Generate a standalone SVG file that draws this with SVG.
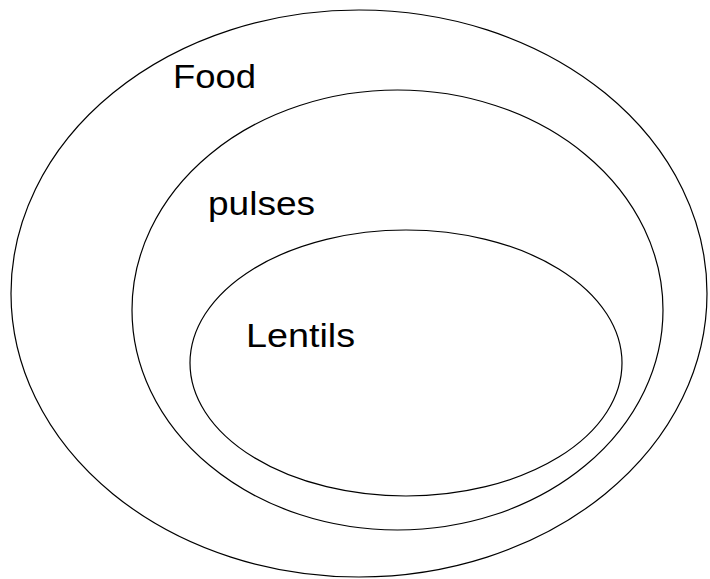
<svg xmlns="http://www.w3.org/2000/svg" width="710" height="579" viewBox="0 0 710 579">
<style>
.set{fill:none;stroke:#000;stroke-width:1.2}
.lbl{font-family:"Liberation Sans",Arial,sans-serif;font-size:34px;fill:#000}
</style>
<rect width="710" height="579" fill="#fff"/>
<g id="food">
<ellipse class="set" cx="359" cy="293.5" rx="348" ry="283.5"/>
<text class="lbl" x="173" y="88" textLength="83" lengthAdjust="spacingAndGlyphs">Food</text>
</g>
<g id="pulses">
<ellipse class="set" cx="397.5" cy="310" rx="265.5" ry="220"/>
<text class="lbl" x="208" y="215" textLength="107" lengthAdjust="spacingAndGlyphs">pulses</text>
</g>
<g id="lentils">
<ellipse class="set" cx="406" cy="363" rx="216" ry="133"/>
<text class="lbl" x="246" y="347" textLength="109" lengthAdjust="spacingAndGlyphs">Lentils</text>
</g>
<g id="connectors"/>
</svg>
